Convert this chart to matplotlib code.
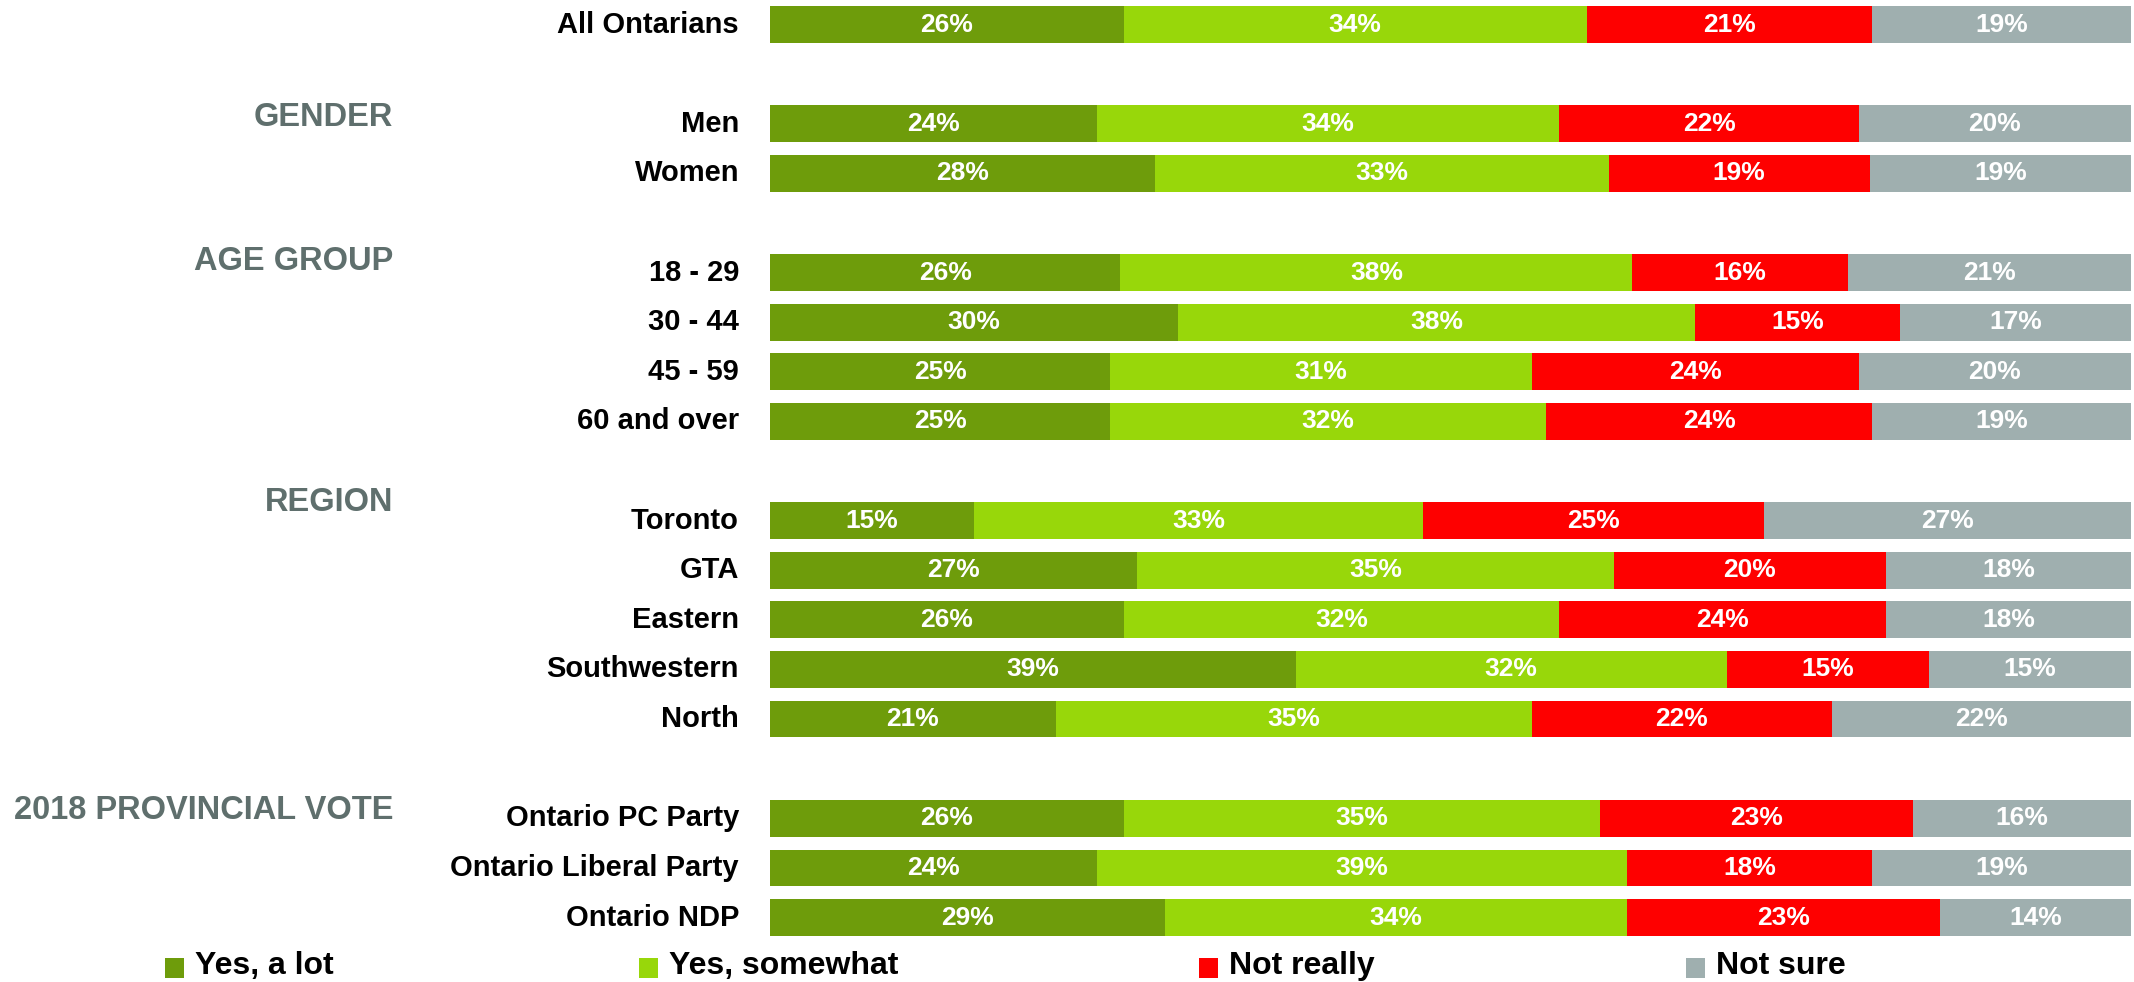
import matplotlib
matplotlib.use('Agg')
import matplotlib.pyplot as plt
from matplotlib import font_manager
from matplotlib.patches import Rectangle
from matplotlib.transforms import blended_transform_factory
import numpy as np

# Survey results, one value per row in each answer series
rows = ['All Ontarians',
        'Men', 'Women',
        '18 - 29', '30 - 44', '45 - 59', '60 and over',
        'Toronto', 'GTA', 'Eastern', 'Southwestern', 'North',
        'Ontario PC Party', 'Ontario Liberal Party', 'Ontario NDP']
yes_lot = [26, 24, 28, 26, 30, 25, 25, 15, 27, 26, 39, 21, 26, 24, 29]
yes_somewhat = [34, 34, 33, 38, 38, 31, 32, 33, 35, 32, 32, 35, 35, 39, 34]
not_really = [21, 22, 19, 16, 15, 24, 24, 25, 20, 24, 15, 22, 23, 18, 23]
not_sure = [19, 20, 19, 21, 17, 20, 19, 27, 18, 18, 15, 22, 16, 19, 14]
series = ['Yes, a lot', 'Yes, somewhat', 'Not really', 'Not sure']
groups = ['GENDER', 'AGE GROUP', 'REGION', '2018 PROVINCIAL VOTE']
group_sizes = [1, 2, 4, 5, 3]   # first block is the overall row, no heading

colors = ['#6e9c0b', '#98d70a', '#fe0000', '#9fafaf']
head_color = '#5f6f6d'

# pick a font that is installed
installed = {f.name for f in font_manager.fontManager.ttflist}
family = next(f for f in ['Liberation Sans', 'Arial', 'DejaVu Sans'] if f in installed)
plt.rcParams['font.family'] = family

W, H = 2134, 982
fig = plt.figure(figsize=(W / 100, H / 100), dpi=100)
ax = fig.add_axes([770 / W, 0, 1361 / W, 1])

# row slots, one blank slot between blocks
slots = []
pos = 0
for size in group_sizes:
    slots.extend(range(pos, pos + size))
    pos += size + 1
slots = np.array(slots)

data = np.array([yes_lot, yes_somewhat, not_really, not_sure], dtype=float)
shares = data / data.sum(axis=0) * 100

left = np.zeros(len(rows))
for k in range(4):
    ax.barh(slots, shares[k], left=left, height=0.74, color=colors[k],
            edgecolor='none')
    for y, l, w, v in zip(slots, left, shares[k], data[k]):
        ax.text(l + w / 2, y, f'{int(v)}%', ha='center', va='center',
                color='white', fontsize=19, fontweight='bold')
    left += shares[k]

ax.set_xlim(0, 100)
ax.set_ylim(19.30, -0.494)
ax.axis('off')

ytrans = ax.get_yaxis_transform()
for y, name in zip(slots, rows):
    ax.text(-0.0228, y, name, transform=ytrans, ha='right', va='center',
            fontsize=21, fontweight='bold', color='black')

# block headings sit a little above the first row of each block
first_slots = [slots[1], slots[3], slots[7], slots[12]]
head_offsets = [0.13, 0.22, 0.36, 0.15]
for name, y, off in zip(groups, first_slots, head_offsets):
    ax.text(-0.277, y - off, name, transform=ytrans, ha='right', va='center',
            fontsize=23.5, fontweight='bold', color=head_color)

# legend row along the bottom
legend_x = [165, 639, 1199, 1686]
ltrans = blended_transform_factory(fig.transFigure, ax.transData)
for name, c, x in zip(series, colors, legend_x):
    ax.add_patch(Rectangle((x / W, 19.02 - 0.2), 19 / W, 0.4, transform=ltrans,
                           facecolor=c, edgecolor='none', clip_on=False))
    ax.text((x + 30) / W, 18.98, name, transform=ltrans, ha='left', va='center',
            fontsize=23, fontweight='bold', color='black', clip_on=False)

fig.savefig('out.png', dpi=100, facecolor='white')
